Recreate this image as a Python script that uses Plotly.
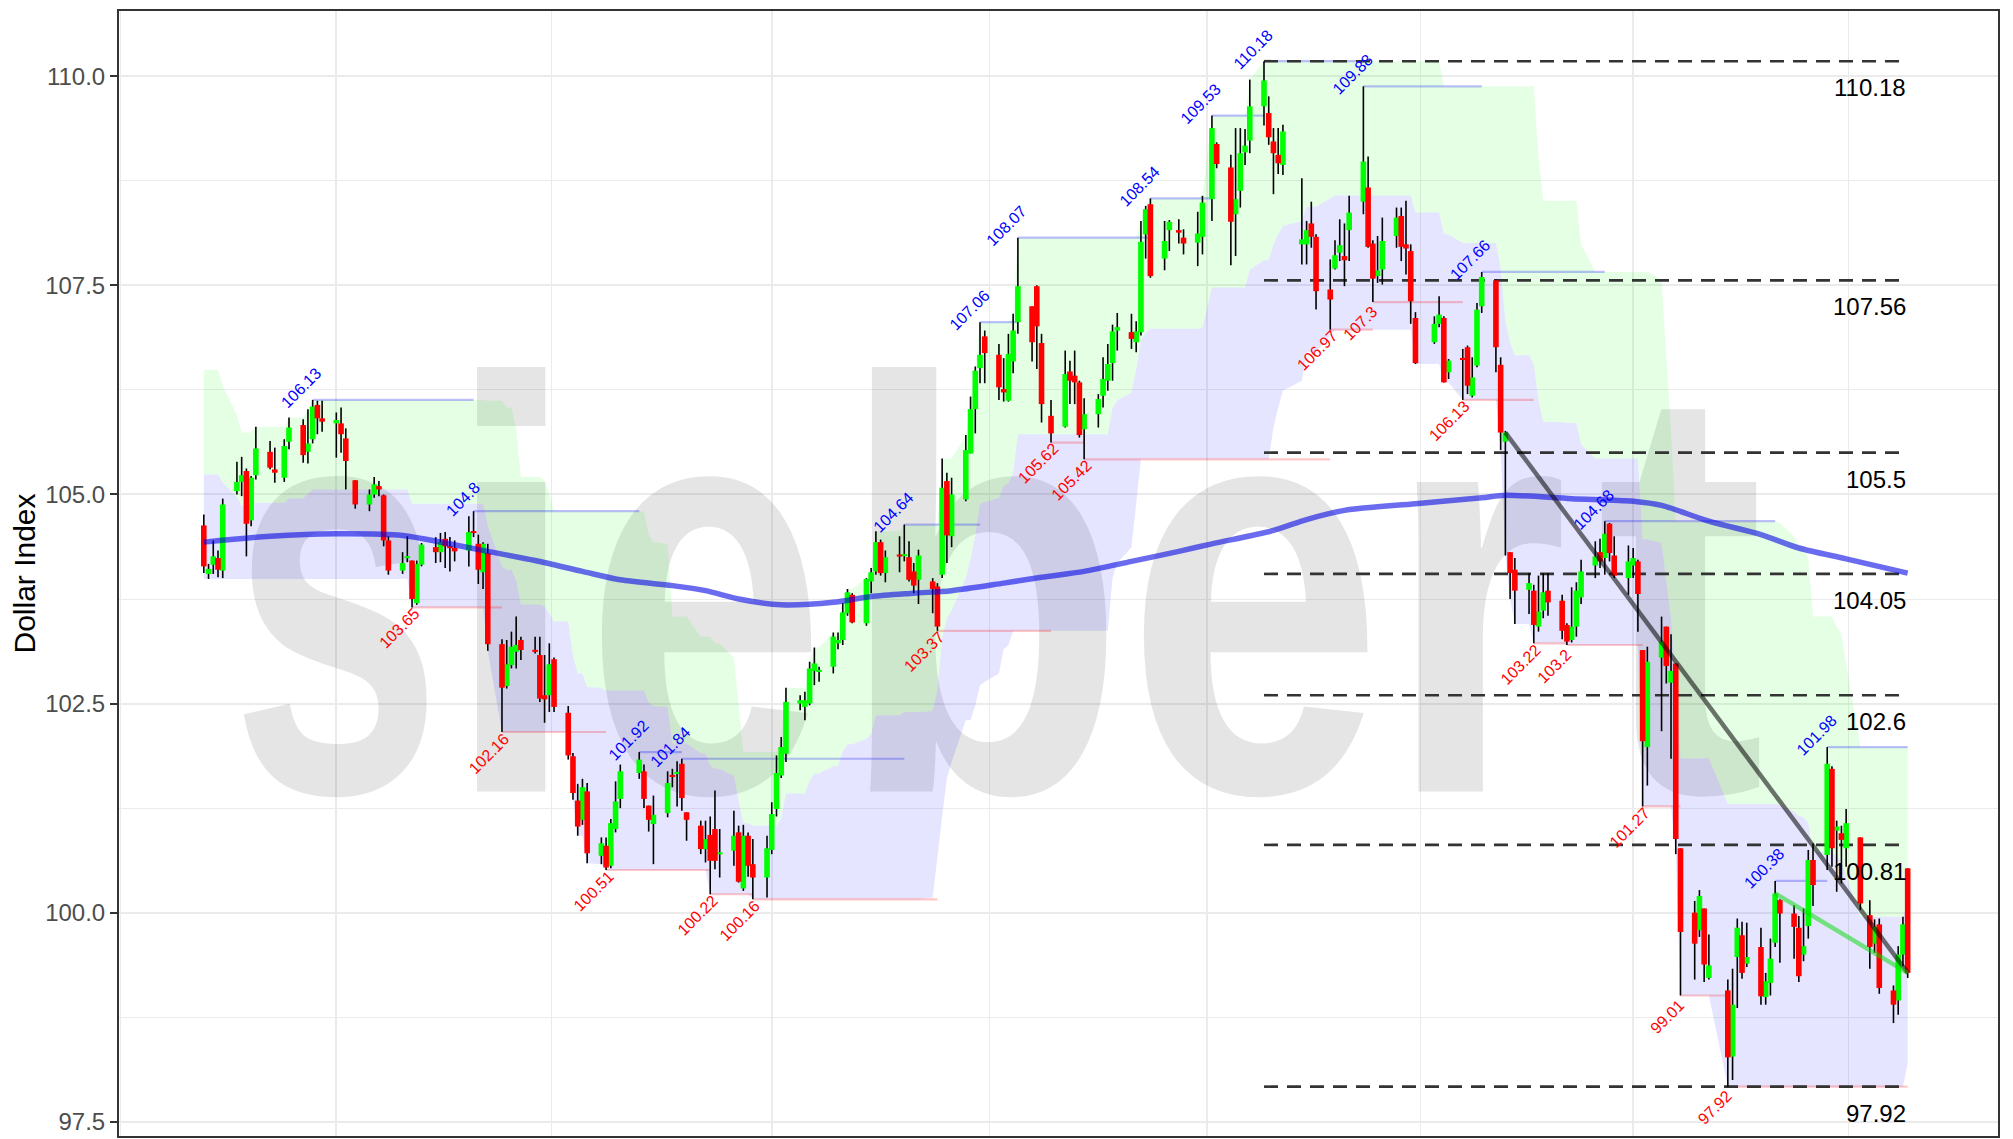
import plotly.graph_objects as go

# ---------------- data ----------------
DATES = [
 "2024-06-03","2024-06-04","2024-06-05","2024-06-06","2024-06-07","2024-06-10","2024-06-11","2024-06-12","2024-06-13","2024-06-14",
 "2024-06-17","2024-06-18","2024-06-20","2024-06-21","2024-06-24","2024-06-25","2024-06-26","2024-06-27","2024-06-28","2024-07-01",
 "2024-07-02","2024-07-03","2024-07-05","2024-07-08","2024-07-09","2024-07-10","2024-07-11","2024-07-12","2024-07-15","2024-07-16",
 "2024-07-17","2024-07-18","2024-07-19","2024-07-22","2024-07-23","2024-07-24","2024-07-25","2024-07-26","2024-07-29","2024-07-30",
 "2024-07-31","2024-08-01","2024-08-02","2024-08-05","2024-08-06","2024-08-07","2024-08-08","2024-08-09","2024-08-12","2024-08-13",
 "2024-08-14","2024-08-15","2024-08-16","2024-08-19","2024-08-20","2024-08-21","2024-08-22","2024-08-23","2024-08-26","2024-08-27",
 "2024-08-28","2024-08-29","2024-08-30","2024-09-03","2024-09-04","2024-09-05","2024-09-06","2024-09-09","2024-09-10","2024-09-11",
 "2024-09-12","2024-09-13","2024-09-16","2024-09-17","2024-09-18","2024-09-19","2024-09-20","2024-09-23","2024-09-24","2024-09-25",
 "2024-09-26","2024-09-27","2024-09-30","2024-10-01","2024-10-02","2024-10-03","2024-10-04","2024-10-07","2024-10-08","2024-10-09",
 "2024-10-10","2024-10-11","2024-10-14","2024-10-15","2024-10-16","2024-10-17","2024-10-18","2024-10-21","2024-10-22","2024-10-23",
 "2024-10-24","2024-10-25","2024-10-28","2024-10-29","2024-10-30","2024-10-31","2024-11-01","2024-11-04","2024-11-05","2024-11-06",
 "2024-11-07","2024-11-08","2024-11-11","2024-11-12","2024-11-13","2024-11-14","2024-11-15","2024-11-18","2024-11-19","2024-11-20",
 "2024-11-21","2024-11-22","2024-11-25","2024-11-26","2024-11-27","2024-11-29","2024-12-02","2024-12-03","2024-12-04","2024-12-05",
 "2024-12-06","2024-12-09","2024-12-10","2024-12-11","2024-12-12","2024-12-13","2024-12-16","2024-12-17","2024-12-18","2024-12-19",
 "2024-12-20","2024-12-23","2024-12-24","2024-12-26","2024-12-27","2024-12-30","2024-12-31","2025-01-02","2025-01-03","2025-01-06",
 "2025-01-07","2025-01-08","2025-01-09","2025-01-10","2025-01-13","2025-01-14","2025-01-15","2025-01-16","2025-01-17","2025-01-21",
 "2025-01-22","2025-01-23","2025-01-24","2025-01-27","2025-01-28","2025-01-29","2025-01-30","2025-01-31","2025-02-03","2025-02-04",
 "2025-02-05","2025-02-06","2025-02-07","2025-02-10","2025-02-11","2025-02-12","2025-02-13","2025-02-14","2025-02-18","2025-02-19",
 "2025-02-20","2025-02-21","2025-02-24","2025-02-25","2025-02-26","2025-02-27","2025-02-28","2025-03-03","2025-03-04","2025-03-05",
 "2025-03-06","2025-03-07","2025-03-10","2025-03-11","2025-03-12","2025-03-13","2025-03-14","2025-03-17","2025-03-18","2025-03-19",
 "2025-03-20","2025-03-21","2025-03-24","2025-03-25","2025-03-26","2025-03-27","2025-03-28","2025-03-31","2025-04-01","2025-04-02",
 "2025-04-03","2025-04-04","2025-04-07","2025-04-08","2025-04-09","2025-04-10","2025-04-11","2025-04-14","2025-04-15","2025-04-16",
 "2025-04-17","2025-04-21","2025-04-22","2025-04-23","2025-04-24","2025-04-25","2025-04-28","2025-04-29","2025-04-30","2025-05-01",
 "2025-05-02","2025-05-05","2025-05-06","2025-05-07","2025-05-08","2025-05-09","2025-05-12","2025-05-13","2025-05-14","2025-05-15",
 "2025-05-16","2025-05-19","2025-05-21","2025-05-22","2025-05-23","2025-05-26","2025-05-27","2025-05-28","2025-05-29",
]
OPEN = [
 104.63,104.05,104.16,104.24,104.09,105.04,105.15,105.28,104.69,105.23,
 105.51,105.30,105.20,105.63,105.83,105.51,105.66,106.07,105.91,105.85,
 105.85,105.67,105.17,104.88,105.00,105.10,104.99,104.45,104.09,104.24,
 104.21,103.70,104.16,104.37,104.31,104.47,104.38,104.36,104.33,104.56,
 104.41,104.07,104.30,103.21,102.71,102.96,103.12,103.26,103.14,103.08,
 102.60,102.60,103.03,102.39,101.87,101.34,101.11,101.45,100.68,100.80,
 100.56,101.00,101.36,101.67,101.69,101.28,101.06,101.19,101.64,101.66,
 101.78,101.20,101.04,100.76,100.93,101.00,100.70,100.74,100.96,100.29,
 100.92,100.58,100.42,100.75,101.24,101.64,101.90,102.50,102.46,102.50,
 102.89,102.88,102.94,103.22,103.26,103.58,103.80,103.46,103.96,104.08,
 104.43,104.06,104.28,104.27,104.25,104.08,103.98,103.96,103.90,104.04,
 105.16,104.50,104.94,105.49,106.02,106.51,106.89,106.67,106.26,106.12,
 106.59,107.06,107.25,107.49,106.81,105.94,105.81,106.47,106.42,106.34,
 105.78,105.96,106.18,106.36,106.57,106.96,106.94,106.82,106.94,108.11,
 108.47,107.82,108.16,108.16,108.07,108.01,108.08,108.53,109.19,108.91,
 108.35,108.63,109.09,109.23,109.64,109.56,109.22,109.06,108.94,107.99,
 107.99,108.24,108.08,107.45,107.70,107.89,107.85,108.16,108.50,108.67,
 108.00,107.61,107.69,108.09,108.33,107.99,107.91,107.11,106.82,107.04,
 107.11,106.46,106.63,106.76,106.18,106.54,107.25,107.56,106.55,105.63,
 104.31,104.10,103.86,103.85,103.42,103.61,103.85,103.73,103.44,103.26,
 103.42,103.77,104.15,104.31,104.24,104.65,104.27,104.00,104.15,104.20,
 103.14,101.98,103.05,103.42,102.75,102.98,100.77,100.00,99.79,100.05,
 99.22,99.07,98.28,99.47,99.73,99.39,99.59,98.99,99.16,99.64,
 100.15,99.99,99.82,99.50,99.84,100.63,100.69,101.72,100.98,100.95,
 100.77,100.90,99.97,99.63,99.86,99.07,98.95,99.50,100.53,
]
HIGH = [
 104.76,104.17,104.45,104.33,104.95,105.39,105.45,105.31,105.22,105.81,
 105.64,105.56,105.66,105.92,105.90,106.02,106.13,106.12,106.12,105.98,
 106.04,105.79,105.17,105.06,105.21,105.16,105.00,104.50,104.31,104.50,
 104.21,104.21,104.42,104.49,104.54,104.55,104.49,104.45,104.74,104.80,
 104.52,104.43,104.41,103.27,103.26,103.36,103.54,103.30,103.30,103.30,
 103.08,103.22,103.05,102.47,101.91,101.54,101.60,101.55,100.90,100.90,
 101.12,101.57,101.77,101.92,101.77,101.28,101.40,101.69,101.72,101.81,
 101.84,101.20,101.10,101.10,101.15,101.46,101.00,101.22,101.04,101.05,
 100.96,100.88,100.92,101.32,101.88,102.10,102.69,102.60,102.64,103.00,
 103.17,102.94,103.35,103.35,103.70,103.87,103.82,104.00,104.12,104.56,
 104.46,104.33,104.50,104.64,104.44,104.18,104.34,104.00,103.94,105.43,
 105.26,105.20,105.71,106.17,106.53,107.06,106.96,106.80,106.63,106.92,
 107.16,108.07,107.25,107.50,106.92,106.13,106.72,106.60,106.72,106.36,
 106.15,106.20,106.64,106.80,107.03,107.17,107.16,107.07,108.27,108.45,
 108.54,108.27,108.28,108.29,108.17,108.38,108.57,109.53,109.21,109.06,
 109.38,109.38,109.37,109.96,110.18,109.76,109.38,109.38,109.42,108.78,
 108.27,108.50,108.11,107.81,108.04,108.29,108.24,108.57,109.88,109.04,
 108.04,108.09,108.31,108.43,108.43,108.51,107.99,107.18,107.13,107.37,
 107.13,106.62,106.74,106.78,106.64,107.29,107.66,107.57,106.64,105.76,
 104.31,104.24,104.06,103.92,104.03,104.06,104.06,103.80,103.46,103.89,
 103.95,104.22,104.44,104.47,104.68,104.66,104.50,104.39,104.36,104.22,
 103.14,103.18,103.54,103.42,103.33,102.98,100.77,100.14,100.27,100.05,
 99.74,99.20,99.33,99.93,99.89,99.88,99.82,99.28,99.69,100.38,
 100.16,100.09,99.96,100.05,100.75,100.83,101.98,101.75,101.10,101.04,
 101.24,100.90,100.15,99.92,99.93,99.13,99.60,99.95,100.53,
]
LOW = [
 104.06,103.99,104.05,104.01,104.00,105.00,104.98,104.26,104.62,105.18,
 105.30,105.14,105.15,105.54,105.38,105.37,105.61,105.72,105.75,105.44,
 105.50,105.06,104.83,104.80,104.96,104.98,104.38,104.04,104.05,104.19,
 103.65,103.68,104.14,104.18,104.19,104.12,104.08,104.20,104.14,104.49,
 103.93,103.87,103.13,102.16,102.68,102.92,102.92,103.02,103.10,102.52,
 102.27,102.40,102.40,101.83,101.35,100.92,101.05,100.59,100.58,100.51,
 100.53,100.96,101.25,101.60,101.25,100.97,100.58,101.14,101.50,101.27,
 101.22,100.86,100.70,100.60,100.22,100.52,100.42,100.56,100.36,100.26,
 100.43,100.16,100.18,100.70,101.15,101.61,101.80,102.42,102.30,102.48,
 102.72,102.76,102.86,103.15,103.20,103.55,103.46,103.43,103.82,104.04,
 104.03,103.95,104.07,104.20,103.96,103.82,103.69,103.58,103.37,104.00,
 104.18,104.37,104.92,105.49,105.73,106.33,106.33,106.13,106.11,106.11,
 106.45,106.92,106.59,106.50,105.86,105.62,105.80,106.08,106.08,105.68,
 105.42,105.80,106.04,106.24,106.36,106.72,106.74,106.70,106.90,107.82,
 107.59,107.68,107.91,108.00,107.87,107.73,107.87,108.27,108.90,107.74,
 107.85,108.43,108.94,109.08,109.41,109.18,108.59,108.83,108.82,107.75,
 107.75,107.95,107.21,106.97,107.69,107.79,107.49,107.79,108.35,107.95,
 107.30,107.53,107.51,107.95,107.79,107.63,107.04,106.56,106.80,107.00,
 106.34,106.38,106.13,106.20,106.16,106.52,107.17,106.46,105.53,104.27,
 103.75,103.45,103.57,103.22,103.36,103.52,103.55,103.27,103.20,103.23,
 103.30,103.69,104.00,104.12,104.04,104.20,104.00,103.80,104.00,103.36,
 101.27,101.52,102.17,102.74,101.84,100.70,99.01,99.20,99.71,99.17,
 99.20,97.92,98.00,98.86,99.21,99.35,98.90,98.90,99.01,99.59,
 99.40,99.45,99.17,99.42,99.69,100.08,100.51,100.55,100.25,100.35,
 100.55,100.03,99.33,99.52,99.03,98.68,98.78,99.36,99.22,
]
CLOSE = [
 104.14,104.11,104.26,104.10,104.88,105.15,105.23,104.65,105.20,105.55,
 105.32,105.26,105.58,105.80,105.47,105.61,106.05,105.91,105.87,105.89,
 105.72,105.40,104.88,105.00,105.12,105.06,104.45,104.09,104.18,104.26,
 103.75,104.17,104.40,104.31,104.43,104.38,104.36,104.32,104.55,104.54,
 104.10,104.41,103.21,102.69,102.97,103.18,103.20,103.14,103.12,102.56,
 102.55,102.97,102.46,101.88,101.43,101.03,101.50,100.71,100.83,100.54,
 101.07,101.33,101.69,101.83,101.36,101.11,101.17,101.55,101.63,101.68,
 101.37,101.11,100.76,100.88,100.62,100.62,100.72,100.92,100.37,100.92,
 100.56,100.42,100.77,101.18,101.67,101.98,102.52,102.54,102.54,102.92,
 102.98,102.90,103.30,103.26,103.59,103.83,103.47,103.99,104.07,104.43,
 104.06,104.25,104.26,104.28,103.98,103.91,104.27,103.87,103.42,105.08,
 104.51,105.00,105.53,106.02,106.48,106.67,106.69,106.28,106.22,106.68,
 106.96,107.49,106.82,107.01,106.08,105.73,106.44,106.36,106.34,105.71,
 105.96,106.14,106.38,106.56,106.95,107.00,106.86,106.95,108.02,108.41,
 107.61,108.03,108.26,108.13,108.00,108.12,108.49,109.38,108.95,108.26,
 108.53,109.08,109.17,109.64,109.95,109.27,109.08,108.96,109.34,108.05,
 108.16,108.08,107.43,107.33,107.86,107.98,107.80,108.37,108.98,107.96,
 107.58,107.68,108.03,108.31,107.96,107.94,107.31,106.57,107.04,107.15,
 106.34,106.60,106.61,106.30,106.40,107.21,107.60,106.76,105.74,105.74,
 104.06,103.85,103.94,103.44,103.60,103.83,103.71,103.37,103.24,103.42,
 103.85,104.08,104.26,104.20,104.53,104.30,104.03,104.20,104.24,103.81,
 102.05,103.00,103.24,102.95,102.89,100.88,99.77,99.63,100.20,99.38,
 99.37,98.27,98.90,99.82,99.28,99.47,99.00,99.18,99.45,100.23,
 99.99,99.83,99.24,99.60,100.63,100.33,101.78,100.77,101.03,100.87,
 101.07,100.11,99.59,99.83,99.10,98.90,99.50,99.86,99.28,
]

# channel ribbons: value holds from each listed date until the next one
UPPER_DATES = [
 "2024-06-03","2024-06-07","2024-06-10","2024-06-11","2024-06-14","2024-06-21","2024-06-25","2024-06-26","2024-08-02","2024-08-06",
 "2024-08-08","2024-08-09","2024-08-14","2024-08-15","2024-08-16","2024-09-05","2024-09-06","2024-09-09","2024-09-10","2024-09-16",
 "2024-09-19","2024-09-23","2024-09-24","2024-09-25","2024-10-03","2024-10-04","2024-10-09","2024-10-10","2024-10-14","2024-10-16",
 "2024-10-17","2024-10-21","2024-10-22","2024-10-23","2024-10-29","2024-11-06","2024-11-11","2024-11-12","2024-11-13","2024-11-14",
 "2024-11-21","2024-11-22","2024-12-18","2024-12-19","2024-12-20","2024-12-31","2025-01-02","2025-01-10","2025-01-13","2025-02-20",
 "2025-03-12","2025-03-13","2025-03-21","2025-03-24","2025-04-07","2025-04-08","2025-04-09","2025-04-10","2025-05-02","2025-05-05",
 "2025-05-06","2025-05-07","2025-05-08","2025-05-09","2025-05-14","2025-05-15","2025-05-16","2025-05-19",
]
UPPER_VALUES = [
 106.49,106.30,105.95,105.74,105.81,105.92,106.02,106.13,106.12,106.04,
 105.79,105.21,105.16,105.00,104.80,104.52,104.43,104.41,103.54,103.30,
 103.22,103.05,102.47,101.92,102.10,102.69,103.00,103.17,103.35,103.70,
 103.87,104.00,104.12,104.56,104.64,105.43,105.71,106.17,106.53,107.06,
 107.16,108.07,108.27,108.45,108.54,108.57,109.53,109.96,110.18,109.88,
 109.04,108.51,107.99,107.66,107.57,106.64,105.76,104.68,104.66,104.50,
 104.39,104.36,104.22,103.54,103.42,103.33,102.98,101.98,
]
LOWER_DATES = [
 "2024-06-03","2024-07-17","2024-08-02","2024-08-05","2024-08-20","2024-08-21","2024-08-23","2024-08-26","2024-08-27","2024-09-18",
 "2024-09-27","2024-11-04","2024-11-05","2024-11-06","2024-11-07","2024-11-08","2024-11-11","2024-11-13","2024-11-14","2024-11-15",
 "2024-11-18","2024-11-19","2024-11-20","2024-11-21","2024-12-12","2024-12-13","2024-12-16","2024-12-17","2024-12-18","2025-01-15",
 "2025-01-16","2025-01-17","2025-01-21","2025-01-22","2025-01-27","2025-01-28","2025-02-14","2025-02-20","2025-02-24","2025-03-04",
 "2025-03-05","2025-03-06","2025-03-07","2025-03-11","2025-03-18","2025-04-03","2025-04-10","2025-04-11","2025-04-21","2025-05-29",
]
LOWER_VALUES = [
 103.99,103.65,103.13,102.16,101.35,100.92,100.59,100.58,100.51,100.22,
 100.16,100.18,100.70,101.15,101.61,101.80,102.30,102.48,102.72,102.76,
 102.86,103.15,103.20,103.37,104.00,104.18,104.37,104.92,105.42,105.80,
 106.04,106.24,106.36,106.70,106.90,106.97,106.56,106.34,106.13,105.53,
 104.27,103.75,103.45,103.22,103.20,101.27,100.70,99.01,97.92,98.20,
]

SMA_DATES = [
 "2024-06-03","2024-06-17","2024-07-01","2024-07-15","2024-07-24","2024-08-02","2024-08-12","2024-08-22","2024-08-30","2024-09-10",
 "2024-09-17","2024-09-24","2024-10-03","2024-10-14","2024-10-22","2024-10-31","2024-11-08","2024-11-19","2024-11-27","2024-12-06",
 "2024-12-16","2024-12-26","2025-01-02","2025-01-15","2025-01-22","2025-01-30","2025-02-14","2025-02-28","2025-03-05","2025-03-19",
 "2025-04-01","2025-04-07","2025-04-17","2025-04-28","2025-05-06","2025-05-16","2025-05-29",
]
SMA_VALUES = [
 104.43,104.50,104.53,104.51,104.42,104.32,104.21,104.08,103.98,103.91,
 103.85,103.75,103.68,103.71,103.78,103.82,103.85,103.94,104.01,104.08,
 104.20,104.32,104.41,104.57,104.70,104.81,104.89,104.96,104.99,104.95,
 104.92,104.87,104.68,104.52,104.36,104.23,104.06,
]

PEAK_DATES = ["2024-06-26","2024-07-30","2024-09-03","2024-09-12","2024-10-29","2024-11-14","2024-11-22","2024-12-20",
              "2025-01-02","2025-01-13","2025-02-03","2025-02-28","2025-03-26","2025-05-01","2025-05-12"]
PEAK_VALUES = [106.13,104.8,101.92,101.84,104.64,107.06,108.07,108.54,109.53,110.18,109.88,107.66,104.68,100.38,101.98]
TROUGH_DATES = ["2024-07-17","2024-08-05","2024-08-27","2024-09-18","2024-09-27","2024-11-05","2024-11-29","2024-12-06",
                "2025-01-27","2025-02-05","2025-02-24","2025-03-11","2025-03-18","2025-04-03","2025-04-11","2025-04-21"]
TROUGH_VALUES = [103.65,102.16,100.51,100.22,100.16,103.37,105.62,105.42,106.97,107.3,106.13,103.22,103.2,101.27,99.01,97.92]

FIB_START = "2025-01-13"
FIB_LEVELS = [110.18, 107.56, 105.5, 104.05, 102.6, 100.81, 97.92]

TREND_DOWN_DATES = ["2025-03-05", "2025-05-29"]
TREND_DOWN_VALUES = [105.74, 99.28]
TREND_UP_DATES = ["2025-05-01", "2025-05-29"]
TREND_UP_VALUES = [100.23, 99.28]

WATERMARK = "siebert"
MAJOR_X = ["2024-07-01", "2024-10-01", "2025-01-01", "2025-04-01"]
MINOR_X = ["2024-05-16 12:00", "2024-08-15 12:00", "2024-11-16", "2025-02-15", "2025-05-16 12:00"]

# ---------------- styling / placement ----------------
WM_X = ["2024-07-01", "2024-08-07", "2024-09-17", "2024-11-14 12:00", "2025-01-11", "2025-02-27", "2025-04-11"]
WM_SCALE = [0.65, 0.85, 0.74, 0.80, 0.79, 0.80, 0.87]   # horizontal squeeze of each watermark glyph
WM_Y = 103.2
WM_SIZE = 586
BODY_PX = 5.6


def step_hold(bp_dates, bp_vals, dates):
    out, j = [], 0
    for d in dates:
        while j + 1 < len(bp_dates) and bp_dates[j + 1] <= d:
            j += 1
        out.append(bp_vals[j])
    return out


upper = step_hold(UPPER_DATES, UPPER_VALUES, DATES)
lower = step_hold(LOWER_DATES, LOWER_VALUES, DATES)
mid = [(u + l) / 2 for u, l in zip(upper, lower)]
last = DATES[-1]

fig = go.Figure()

# watermark (real text, one letter each)
fig.add_trace(go.Scatter(
    x=WM_X, y=[WM_Y] * len(WATERMARK), mode="text", text=list(WATERMARK), customdata=WM_SCALE,
    textposition="middle center",
    textfont=dict(family="Liberation Sans, Arial", size=WM_SIZE, color="rgba(0,0,0,0.10)", weight="bold"),
    hoverinfo="skip", showlegend=False))

# blue ribbon (lower half of channel)
fig.add_trace(go.Scatter(x=DATES, y=lower, mode="lines", line=dict(width=0), hoverinfo="skip", showlegend=False))
fig.add_trace(go.Scatter(x=DATES, y=mid, mode="lines", line=dict(width=0), fill="tonexty",
                         fillcolor="rgba(0,0,255,0.10)", hoverinfo="skip", showlegend=False))
# green ribbon (upper half)
fig.add_trace(go.Scatter(x=DATES, y=mid, mode="lines", line=dict(width=0), hoverinfo="skip", showlegend=False))
fig.add_trace(go.Scatter(x=DATES, y=upper, mode="lines", line=dict(width=0), fill="tonexty",
                         fillcolor="rgba(0,255,0,0.10)", hoverinfo="skip", showlegend=False))


def segs(dates, vals):
    xs, ys = [], []
    for i, (d, v) in enumerate(zip(dates, vals)):
        end = dates[i + 1] if i + 1 < len(dates) else last
        xs += [d, end, None]
        ys += [v, v, None]
    return xs, ys


px_, py_ = segs(PEAK_DATES, PEAK_VALUES)
fig.add_trace(go.Scatter(x=px_, y=py_, mode="lines", line=dict(color="rgba(0,0,255,0.25)", width=2.2),
                         hoverinfo="skip", showlegend=False))
tx_, ty_ = segs(TROUGH_DATES, TROUGH_VALUES)
fig.add_trace(go.Scatter(x=tx_, y=ty_, mode="lines", line=dict(color="rgba(255,0,0,0.22)", width=2.2),
                         hoverinfo="skip", showlegend=False))

# fibonacci dashed levels
fx, fy = [], []
for v in FIB_LEVELS:
    fx += [FIB_START, last, None]
    fy += [v, v, None]
fig.add_trace(go.Scatter(x=fx, y=fy, mode="lines", line=dict(color="#333333", width=2.6, dash="14px,9px"),
                         hoverinfo="skip", showlegend=False))

# candles: wicks then bodies (bodies as thick segments so they stack in trace order)
wx, wy = [], []
for d, h, l in zip(DATES, HIGH, LOW):
    wx += [d, d, None]
    wy += [l, h, None]
fig.add_trace(go.Scatter(x=wx, y=wy, mode="lines", line=dict(color="black", width=1.6),
                         hoverinfo="skip", showlegend=False))
for up, col in ((True, "#00ff00"), (False, "#ff0000")):
    bx, by = [], []
    for d, o, c in zip(DATES, OPEN, CLOSE):
        if (c >= o) == up:
            lo, hi = min(o, c), max(o, c)
            if hi - lo < 0.025:
                m = (hi + lo) / 2
                lo, hi = m - 0.0125, m + 0.0125
            bx += [d, d, None]
            by += [lo, hi, None]
    fig.add_trace(go.Scatter(x=bx, y=by, mode="lines", line=dict(color=col, width=BODY_PX),
                             hoverinfo="skip", showlegend=False))

# moving average
fig.add_trace(go.Scatter(x=SMA_DATES, y=SMA_VALUES, mode="lines",
                         line=dict(color="rgba(0,0,230,0.58)", width=5.5, shape="spline", smoothing=0.8),
                         hoverinfo="skip", showlegend=False))

# trend lines
fig.add_trace(go.Scatter(x=TREND_DOWN_DATES, y=TREND_DOWN_VALUES, mode="lines",
                         line=dict(color="rgba(0,0,0,0.55)", width=4.5), hoverinfo="skip", showlegend=False))
fig.add_trace(go.Scatter(x=TREND_UP_DATES, y=TREND_UP_VALUES, mode="lines",
                         line=dict(color="rgba(0,220,0,0.5)", width=4.5), hoverinfo="skip", showlegend=False))

ann = []
for d, v in zip(PEAK_DATES, PEAK_VALUES):
    ann.append(dict(x=d, y=v, text=f"{v:g}", showarrow=False, textangle=-45, xanchor="center", yanchor="middle",
                    xshift=-11, yshift=12, font=dict(size=16, color="#0000ff", family="Liberation Sans, Arial")))
for d, v in zip(TROUGH_DATES, TROUGH_VALUES):
    ann.append(dict(x=d, y=v, text=f"{v:g}", showarrow=False, textangle=-45, xanchor="center", yanchor="middle",
                    xshift=-13, yshift=-21, font=dict(size=16, color="#ff0000", family="Liberation Sans, Arial")))
for v in FIB_LEVELS:
    ann.append(dict(x=last, y=v, text=f"{v:g}", showarrow=False, xanchor="right", yanchor="top",
                    yshift=-11, font=dict(size=24, color="black", family="Liberation Sans, Arial")))

fig.update_layout(
    width=2013, height=1139,
    margin=dict(l=111, r=23, t=1, b=11),
    paper_bgcolor="white", plot_bgcolor="white",
    hovermode=False, showlegend=False,
    annotations=ann,
    font=dict(family="Liberation Sans, Arial"),
    xaxis=dict(type="date", range=["2024-05-16 02:00", "2025-06-17 02:00"],
               tickvals=MAJOR_X, showticklabels=False, ticks="",
               showgrid=True, gridcolor="#ebebeb", gridwidth=2.2,
               minor=dict(tickvals=MINOR_X, showgrid=True, gridcolor="#ebebeb", gridwidth=1.1, ticks=""),
               showline=True, linecolor="#333333", linewidth=2, mirror=True, zeroline=False),
    yaxis=dict(range=[97.33, 110.78], tick0=0, dtick=2.5, tickformat=".1f",
               ticks="outside", ticklen=7, tickwidth=2, tickcolor="#333333",
               tickfont=dict(size=24, color="#4d4d4d"),
               showgrid=True, gridcolor="#ebebeb", gridwidth=2.2,
               minor=dict(dtick=1.25, showgrid=True, gridcolor="#ebebeb", gridwidth=1.1),
               showline=True, linecolor="#333333", linewidth=2, mirror=True, zeroline=False,
               title=dict(text="Dollar Index", font=dict(size=30, color="black"), standoff=10)),
)

# squeeze the watermark glyphs horizontally (condensed lettering as in the reference)
POST = """
var gd = document.getElementById('{plot_id}');
try {
  var sc = gd.data[0].customdata || [];
  var tr = gd.querySelectorAll('.scatterlayer .trace')[0];
  var nodes = tr.querySelectorAll('.textpoint text');
  nodes.forEach(function(t, i) {
    var s = sc[i] || 1;
    var x = parseFloat(t.getAttribute('x'));
    t.setAttribute('transform', 'translate(' + (x * (1 - s)) + ',0) scale(' + s + ',1)');
  });
} catch (e) {}
"""

fig.write_html("out.html", post_script=POST)
